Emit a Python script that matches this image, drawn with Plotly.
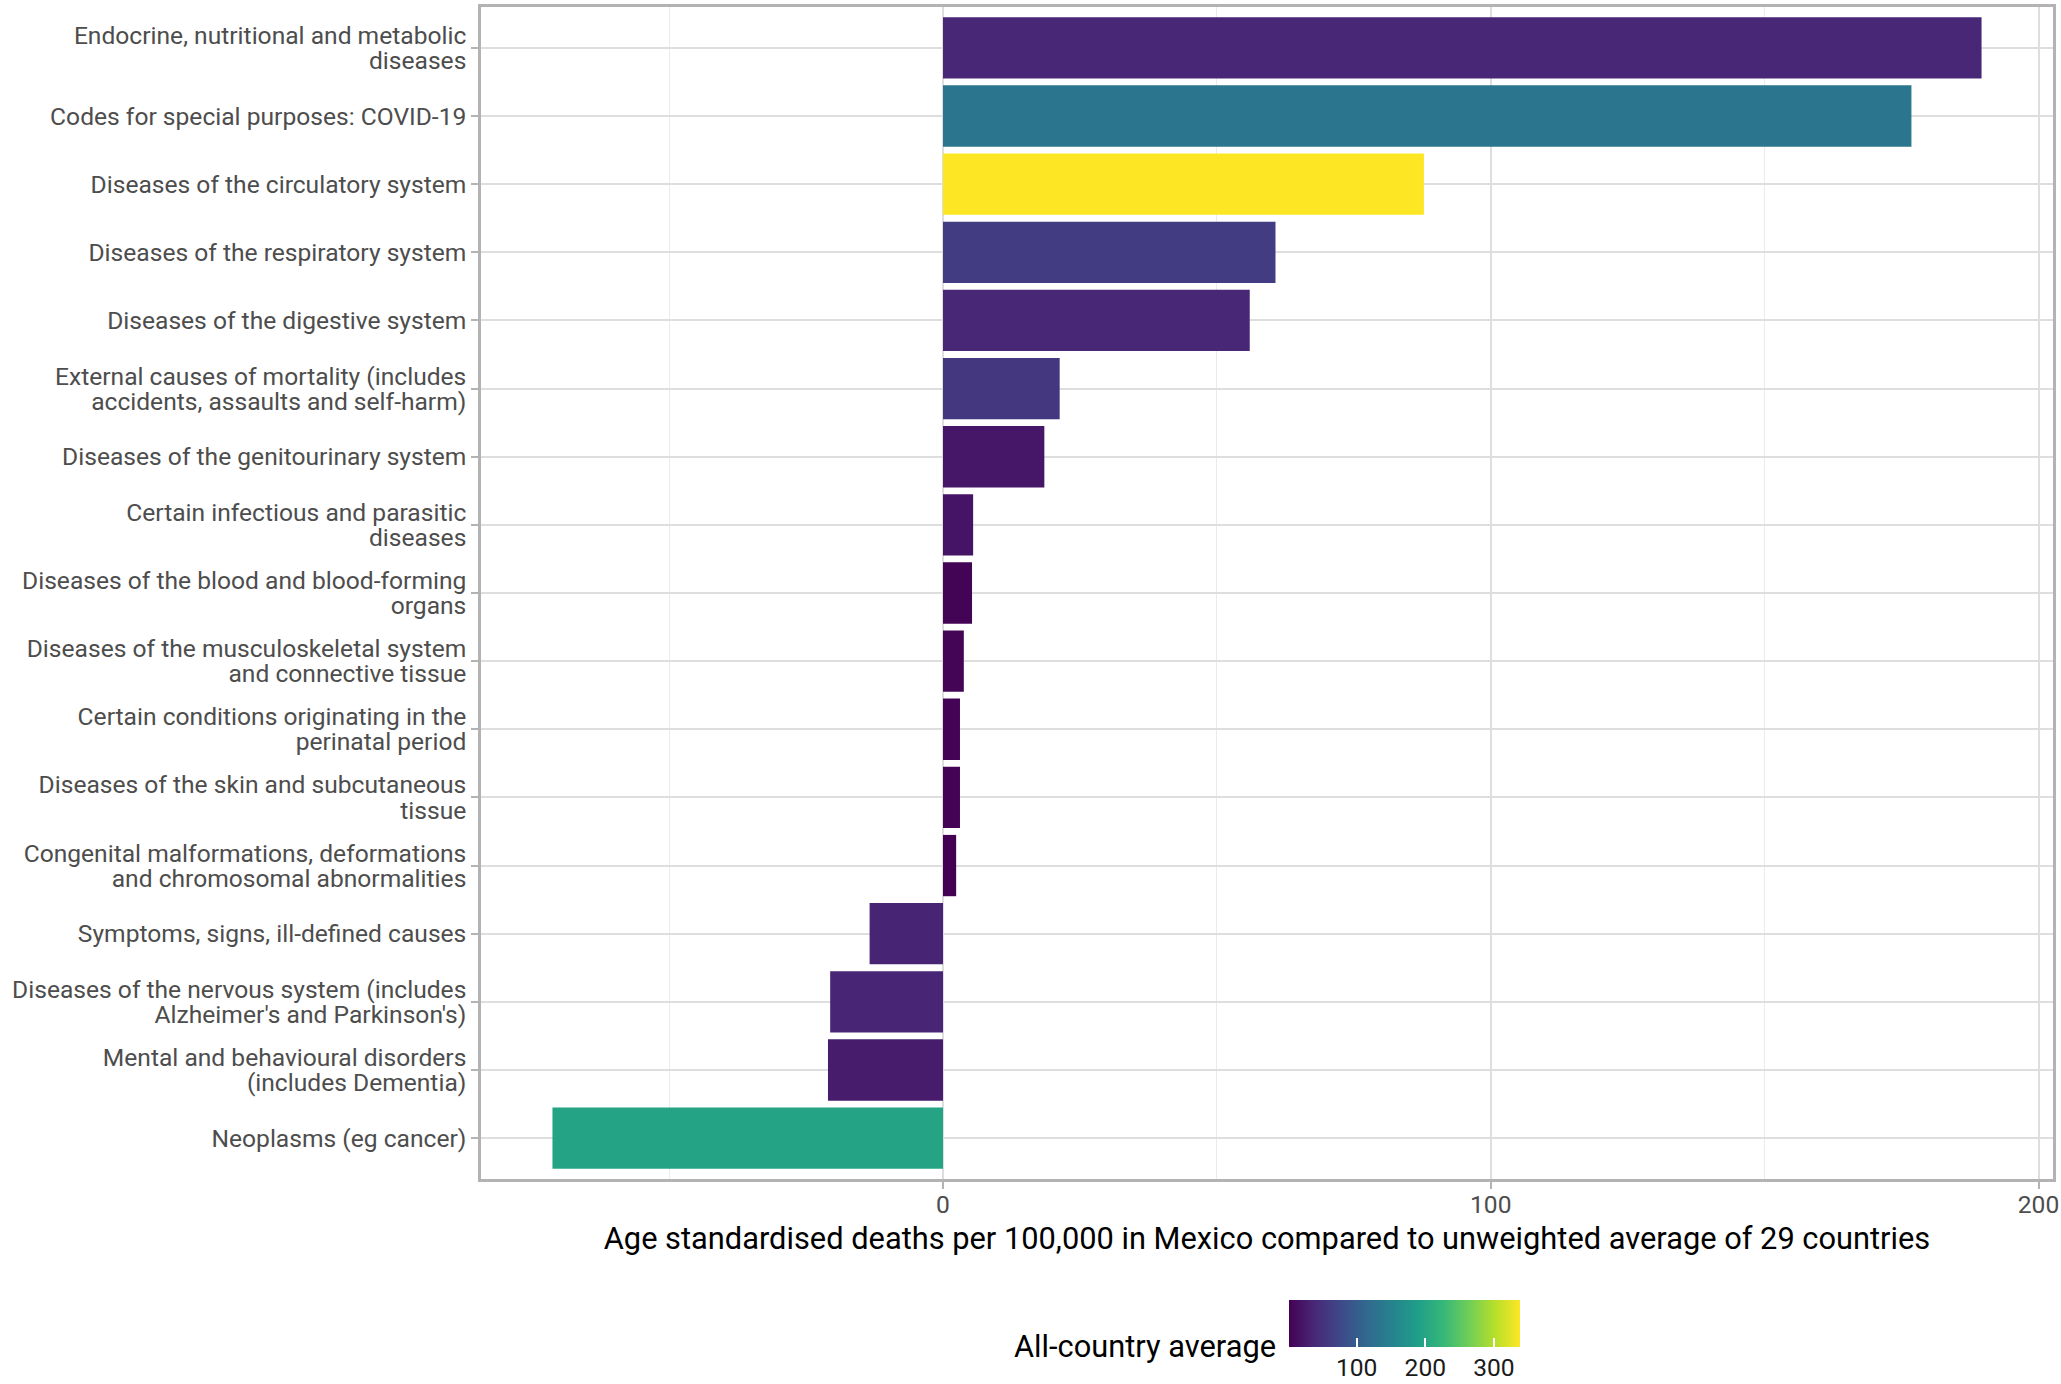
import plotly.graph_objects as go

categories = [
    "Endocrine, nutritional and metabolic<br>diseases",
    "Codes for special purposes: COVID-19",
    "Diseases of the circulatory system",
    "Diseases of the respiratory system",
    "Diseases of the digestive system",
    "External causes of mortality (includes<br>accidents, assaults and self-harm)",
    "Diseases of the genitourinary system",
    "Certain infectious and parasitic<br>diseases",
    "Diseases of the blood and blood-forming<br>organs",
    "Diseases of the musculoskeletal system<br>and connective tissue",
    "Certain conditions originating in the<br>perinatal period",
    "Diseases of the skin and subcutaneous<br>tissue",
    "Congenital malformations, deformations<br>and chromosomal abnormalities",
    "Symptoms, signs, ill-defined causes",
    "Diseases of the nervous system (includes<br>Alzheimer's and Parkinson's)",
    "Mental and behavioural disorders<br>(includes Dementia)",
    "Neoplasms (eg cancer)",
]

# Difference: Mexico minus unweighted average of 29 countries (deaths per 100,000)
difference = [189.6, 176.8, 87.8, 60.7, 56.0, 21.3, 18.5, 5.5, 5.3, 3.8, 3.1, 3.1, 2.4,
              -13.4, -20.6, -21.0, -71.3]

# All-country average (deaths per 100,000), mapped to colour
all_country_avg = [38, 133, 338, 62, 38, 55, 22, 20, 4, 5, 3, 3, 1.5,
                   35, 36, 27, 198]

x_ticks = [0, 100, 200]
x_minor = [-50, 50, 150]
cbar_ticks = [100, 200, 300]

span = max(difference) - min(difference)
x_range = [min(difference) - 0.05 * span, max(difference) + 0.05 * span]

TICK_SIZE = 24.6
TITLE_SIZE = 30.8

cbar_common = dict(
    orientation="h",
    x=0.5875, xanchor="center",
    y=-0.1032, yanchor="top",
    len=231, lenmode="pixels",
    thickness=47, thicknessmode="pixels",
    outlinewidth=0,
    xpad=0, ypad=0,
    tickvals=cbar_ticks,
)

fig = go.Figure()
fig.add_trace(go.Bar(
    y=categories,
    x=difference,
    orientation="h",
    marker=dict(
        color=all_country_avg,
        colorscale="Viridis",
        cmin=min(all_country_avg),
        cmax=max(all_country_avg),
        line=dict(width=0),
        showscale=True,
        colorbar=dict(
            **cbar_common,
            ticks="outside", ticklen=0, tickcolor="rgba(0,0,0,0)",
            tickfont=dict(family="Roboto", size=TICK_SIZE, color="#1a1a1a"),
        ),
    ),
    hoverinfo="x+y",
))
# second colorbar only to draw the white inside tick marks
fig.add_trace(go.Scatter(
    y=categories,
    x=difference,
    mode="markers",
    hoverinfo="skip",
    marker=dict(
        color=all_country_avg,
        colorscale="Viridis",
        cmin=min(all_country_avg),
        cmax=max(all_country_avg),
        opacity=0, size=1,
        showscale=True,
        colorbar=dict(
            **cbar_common,
            ticks="inside", ticklen=9, tickcolor="white", tickwidth=1.5,
            showticklabels=False,
        ),
    ),
))

grid_major = "#dedede"
fig.update_layout(
    width=2061, height=1384,
    margin=dict(l=481, r=8, t=7, b=205, autoexpand=False),
    paper_bgcolor="white",
    plot_bgcolor="white",
    bargap=0.1,
    showlegend=False,
    font=dict(family="Roboto", color="#4d4d4d"),
    xaxis=dict(
        range=x_range,
        tickvals=x_ticks,
        automargin=False,
        ticks="outside", ticklen=7, tickcolor="#b3b3b3", tickwidth=1.5,
        ticklabelstandoff=-5,
        tickfont=dict(family="Roboto", size=TICK_SIZE, color="#4d4d4d"),
        showgrid=True, gridcolor=grid_major, gridwidth=1.6,
        minor=dict(tickvals=x_minor, showgrid=True, gridcolor="#ebebeb", gridwidth=1, ticks=""),
        zeroline=False,
        showline=True, linecolor="#b3b3b3", linewidth=2.5, mirror=True,
        title=dict(
            text="Age standardised deaths per 100,000 in Mexico compared to unweighted average of 29 countries",
            font=dict(family="Roboto", size=TITLE_SIZE, color="#000000"),
            standoff=10,
        ),
    ),
    yaxis=dict(
        type="category",
        categoryorder="array",
        categoryarray=categories[::-1],
        range=[-0.6, len(categories) - 0.4],
        automargin=False,
        ticks="outside", ticklen=7, tickcolor="#b3b3b3", tickwidth=1.5,
        ticklabelstandoff=0,
        tickfont=dict(family="Roboto", size=TICK_SIZE, color="#4d4d4d"),
        showgrid=True, gridcolor=grid_major, gridwidth=2,
        zeroline=False,
        showline=True, linecolor="#b3b3b3", linewidth=2.5, mirror=True,
    ),
    annotations=[dict(
        text="All-country average",
        xref="paper", yref="paper",
        x=(1278 - 481) / 1572, y=(1179 - 1346) / 1172,
        xanchor="right", yanchor="middle",
        showarrow=False,
        font=dict(family="Roboto", size=TITLE_SIZE, color="#000000"),
    )],
)

# remove default page margin; tighten line spacing of two-line category labels
post_js = """
document.body.style.margin = '0';
document.body.style.padding = '0';
var gd = document.getElementById('{plot_id}');
function tightenLabels(){
  gd.querySelectorAll('.yaxislayer-above .ytick text').forEach(function(t){
    var ls = t.querySelectorAll('tspan.line');
    if(ls.length === 2){
      ls[0].setAttribute('dy', '0.14em');
      ls[1].setAttribute('dy', '1.16em');
    }
  });
}
tightenLabels();
gd.on('plotly_afterplot', tightenLabels);
"""

fig.write_html("out.html", post_script=post_js, config={"displayModeBar": False})
